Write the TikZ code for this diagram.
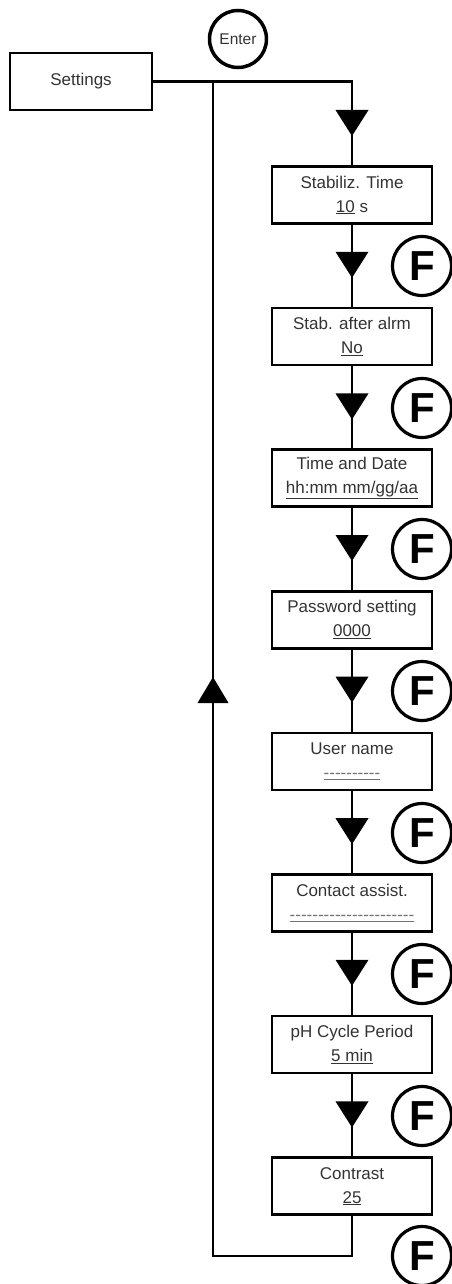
\documentclass[tikz,border=0pt]{standalone}
\usepackage{fontspec}
\setmainfont{Liberation Sans}
\usetikzlibrary{calc}
\begin{document}
\begin{tikzpicture}[x=1pt,y=-1pt,
  line width=2.4pt,
  menubox/.style={draw, line width=2.6pt, minimum width=160pt, minimum height=57pt,
    inner sep=0pt, align=center, text=black!80,
    font=\fontsize{17}{24}\selectfont},
  fkey/.style={draw, circle, line width=3.2pt, minimum size=59pt, inner sep=0pt,
    font=\fontsize{42}{42}\selectfont\bfseries},
  enterkey/.style={draw, circle, line width=3.5pt, minimum size=57pt, inner sep=0pt,
    text=black!80, font=\fontsize{15.5}{15.5}\selectfont}]
\useasboundingbox (0,0) rectangle (452,1284);

% down-pointing and up-pointing arrow heads sitting on a connector
\newcommand{\downtip}[1]{\fill (#1) ++(-16.5,0) -- ++(33,0) -- ++(-16.5,26) -- cycle;}
\newcommand{\uptip}[1]{\fill (#1) ++(-15.5,0) -- ++(31,0) -- ++(-15.5,-26) -- cycle;}

% keys and menu entries
\node[enterkey] (enter) at (238,39) {Enter};
\node[menubox, minimum width=142pt, font=\fontsize{17}{17}\selectfont] (settings) at (81,81.5) {Settings};

\node[menubox] (b1) at (352,195.0)  {Stabiliz. Time\\\underline{10} s};
\node[menubox] (b2) at (352,336.6)  {Stab. after alrm\\\underline{No}};
\node[menubox] (b3) at (352,478.2)  {Time and Date\\\underline{hh:mm mm/gg/aa}};
\node[menubox] (b4) at (352,619.8)  {Password setting\\\underline{0000}};
\node[menubox] (b5) at (352,761.4)  {User name\\\textcolor{black!55}{\underline{-{}-{}-{}-{}-{}-{}-{}-{}-{}-}}};
\node[menubox] (b6) at (352,903.0)  {Contact assist.\\\textcolor{black!55}{\underline{-{}-{}-{}-{}-{}-{}-{}-{}-{}-{}-{}-{}-{}-{}-{}-{}-{}-{}-{}-{}-{}-}}};
\node[menubox] (b7) at (352,1044.6) {pH Cycle Period\\\underline{5 min}};
\node[menubox] (b8) at (352,1186.2) {Contrast\\\underline{25}};

% F keys beside each step
\foreach \i/\yy in {1/266,2/408,3/549,4/691,5/833,6/974,7/1116,8/1256}
  \node[fkey] (f\i) at (422,\yy) {F};

% main connectors
\coordinate (split) at (213,81.5);
\coordinate (loopend) at (213,1256);
\draw (settings.east) -- (split) -| (b1.north);
\foreach \a/\b in {b1/b2,b2/b3,b3/b4,b4/b5,b5/b6,b6/b7,b7/b8}
  \draw (\a.south) -- (\b.north);
\draw (b8.south) |- (loopend) -- (split);

% arrow heads
\coordinate (t0) at (352,110);
\downtip{t0}
\foreach \a in {b1,b2,b3,b4,b5,b6,b7}{
  \coordinate (t) at ($(\a.south)+(0,27)$);
  \downtip{t}
}
\coordinate (u0) at (213,703);
\uptip{u0}
\end{tikzpicture}
\end{document}
